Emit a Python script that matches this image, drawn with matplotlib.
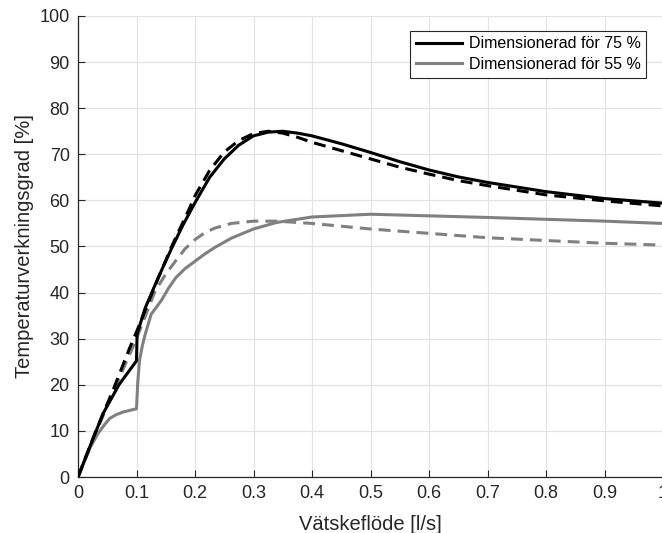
import numpy as np
import matplotlib.pyplot as plt

plt.rcParams['font.family'] = ['Liberation Sans', 'DejaVu Sans']

# Dimensionerad for 75 % (solid)
x75 = [0, 0.02, 0.043, 0.07, 0.1, 0.101, 0.115, 0.137, 0.16, 0.18, 0.2, 0.225, 0.25, 0.275,
       0.3, 0.325, 0.35, 0.375, 0.4, 0.45, 0.5, 0.55, 0.6, 0.65, 0.7, 0.8, 0.9, 1.0]
y75 = [0, 6.5, 13.8, 20.0, 25.2, 31.0, 36.7, 43.2, 49.6, 54.8, 59.5, 65.0, 69.0, 72.0,
       74.0, 74.8, 75.0, 74.6, 74.0, 72.3, 70.4, 68.4, 66.6, 65.1, 63.9, 61.9, 60.4, 59.4]

# 75 % dashed
x75d = [0, 0.03, 0.061, 0.089, 0.103, 0.13, 0.16, 0.191, 0.2, 0.225, 0.25, 0.275, 0.3,
        0.325, 0.35, 0.375, 0.4, 0.45, 0.5, 0.55, 0.6, 0.65, 0.7, 0.8, 0.9, 1.0]
y75d = [0, 9.8, 19.2, 28.2, 32.4, 41.0, 50.0, 58.4, 61.0, 66.5, 70.5, 73.0, 74.5,
        75.0, 74.6, 73.7, 72.6, 70.8, 69.0, 67.2, 65.7, 64.3, 63.2, 61.2, 59.9, 58.8]

# Dimensionerad for 55 % (solid)
x55 = [0, 0.02, 0.034, 0.045, 0.054, 0.065, 0.077, 0.09, 0.1, 0.102, 0.105, 0.11, 0.115,
       0.125, 0.135, 0.143, 0.155, 0.167, 0.183, 0.2, 0.217, 0.234, 0.262, 0.3, 0.339,
       0.4, 0.5, 0.7, 0.9, 1.0]
y55 = [0, 6.2, 9.4, 11.3, 12.7, 13.5, 14.1, 14.5, 14.8, 20.2, 25.2, 28.5, 31.0,
       35.3, 37.0, 38.4, 41.0, 43.2, 45.2, 46.8, 48.4, 49.8, 51.8, 53.8, 55.2,
       56.4, 57.0, 56.3, 55.5, 55.0]

# 55 % dashed
x55d = [0, 0.05, 0.1, 0.132, 0.15, 0.167, 0.183, 0.2, 0.217, 0.234, 0.262, 0.3, 0.34,
        0.4, 0.5, 0.7, 0.9, 1.0]
y55d = [0, 15.5, 30.0, 40.4, 44.0, 46.9, 49.5, 51.5, 53.0, 54.0, 55.0, 55.5, 55.5,
        55.0, 53.8, 51.9, 50.7, 50.3]

xticks = np.arange(0, 1.01, 0.1)
xticklabels = ['0', '0.1', '0.2', '0.3', '0.4', '0.5', '0.6', '0.7', '0.8', '0.9', '1']
yticks = np.arange(0, 101, 10)

fig = plt.figure(figsize=(6.62, 5.33), dpi=100)
ax = fig.add_axes([78 / 662, 56 / 533, 585 / 662, 461 / 533])

gray = '#808080'
dash = (0, (3.9, 2.3))
ax.plot(x55d, y55d, color=gray, lw=2.2, linestyle=dash, zorder=2)
ax.plot(x55, y55, color=gray, lw=2.2, zorder=3, label='Dimensionerad för 55 %')
ax.plot(x75d, y75d, color='black', lw=2.2, linestyle=dash, zorder=4)
ax.plot(x75, y75, color='black', lw=2.2, zorder=5, label='Dimensionerad för 75 %')

ax.set_xlim(0, 1)
ax.set_ylim(0, 100)
ax.set_xticks(xticks)
ax.set_xticklabels(xticklabels)
ax.set_yticks(yticks)
ax.tick_params(direction='in', labelsize=13, colors='#262626', length=5, width=0.8, pad=6)
ax.grid(True, color='#e3e3e3', linewidth=0.9)
ax.set_axisbelow(True)
for s in ['top', 'right']:
    ax.spines[s].set_visible(False)
for s in ['left', 'bottom']:
    ax.spines[s].set_color('#262626')
    ax.spines[s].set_linewidth(0.9)

ax.set_xlabel('Vätskeflöde [l/s]', fontsize=14.5, color='#262626', labelpad=9)
ax.set_ylabel('Temperaturverkningsgrad [%]', fontsize=14.5, color='#262626', labelpad=4)

h, l = ax.get_legend_handles_labels()
leg = ax.legend(h[::-1], l[::-1], loc='upper right', bbox_to_anchor=(0.985, 0.985),
                fontsize=11.5, fancybox=False, edgecolor='#262626', framealpha=1,
                handlelength=2.9, borderpad=0.35, labelspacing=0.35, handletextpad=0.4)
leg.get_frame().set_linewidth(0.8)

fig.savefig('out.png', dpi=100)
